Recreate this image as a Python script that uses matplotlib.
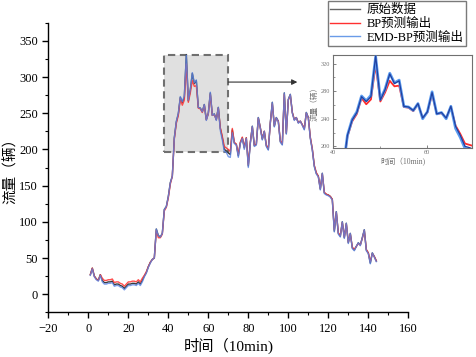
import matplotlib
matplotlib.use("Agg")
import matplotlib.pyplot as plt
from matplotlib.patches import Rectangle
from matplotlib.ticker import MultipleLocator

plt.rcParams['font.family'] = ['Liberation Serif', 'Noto Sans CJK SC', 'DejaVu Sans']
plt.rcParams['axes.unicode_minus'] = True

time = list(range(1, 145))
original = [27, 36, 25, 21, 19, 27, 19, 16, 16, 17, 17, 18, 13, 14, 14, 12, 11, 8, 11, 14,
            14, 15, 15, 14, 17, 14, 19, 25, 30, 38, 44, 48, 50, 90, 81, 79, 84, 117, 121, 135,
            154, 163, 216, 238, 249, 272, 265, 272, 331, 267, 282, 305, 291, 295, 258, 257, 252, 262, 241, 250,
            278, 247, 249, 241, 258, 229, 216, 200, 198, 195, 193, 227, 209, 207, 191, 209, 216, 202, 216, 177,
            209, 232, 205, 207, 244, 230, 214, 225, 205, 200, 237, 265, 232, 244, 239, 211, 207, 278, 222, 269,
            276, 251, 241, 244, 237, 239, 234, 228, 251, 244, 216, 200, 177, 167, 163, 145, 167, 140, 138, 137,
            135, 131, 87, 114, 84, 80, 100, 78, 98, 71, 84, 64, 61, 66, 71, 68, 78, 89, 61, 57,
            43, 57, 52, 46]
bp_pred = [27, 36, 25, 21, 19, 27, 22, 19, 19, 20, 20, 21, 16, 17, 17, 15, 14, 11, 14, 17,
           17, 18, 18, 17, 20, 17, 22, 26, 31, 38, 44, 48, 50, 88, 78, 78, 83, 115, 120, 133,
           152, 163, 214, 236, 247, 270, 261, 268, 318, 265, 278, 295, 287, 288, 257, 256, 251, 261, 241, 249,
           276, 247, 248, 241, 257, 230, 218, 204, 202, 200, 197, 229, 210, 207, 193, 210, 217, 203, 216, 179,
           210, 231, 206, 207, 243, 230, 215, 225, 206, 201, 236, 263, 233, 243, 239, 212, 208, 276, 223, 268,
           275, 251, 241, 244, 237, 239, 234, 229, 250, 244, 217, 201, 178, 168, 163, 146, 166, 141, 138, 137,
           135, 131, 89, 113, 85, 81, 99, 79, 97, 72, 83, 65, 62, 66, 70, 68, 77, 88, 62, 57,
           45, 56, 52, 46]
emd_bp_pred = [26, 35, 24, 20, 18, 26, 17, 14, 14, 15, 15, 16, 11, 12, 12, 10, 9, 6, 9, 12,
               12, 13, 13, 12, 15, 12, 17, 24, 29, 37, 43, 48, 50, 90, 81, 79, 84, 117, 121, 135,
               154, 163, 216, 239, 250, 273, 266, 274, 330, 268, 283, 306, 292, 296, 258, 257, 252, 262, 240, 250,
               279, 247, 249, 240, 258, 226, 213, 197, 196, 190, 189, 223, 208, 206, 189, 208, 215, 200, 215, 175,
               208, 232, 204, 206, 244, 229, 213, 225, 204, 199, 237, 265, 231, 244, 238, 210, 206, 278, 221, 269,
               276, 250, 240, 244, 236, 239, 233, 227, 251, 243, 215, 199, 176, 166, 162, 144, 167, 139, 137, 136,
               134, 130, 86, 114, 83, 79, 100, 77, 98, 70, 84, 63, 60, 66, 71, 67, 78, 89, 60, 56,
               42, 57, 51, 45]

legend_labels = ['原始数据', 'BP预测输出', 'EMD-BP预测输出']
zoom_x = [38, 70]
zoom_y = [197, 331]

c_orig = '#3a3a3a'
c_bp = '#ff3030'
c_emd = '#5b85e6'

fig = plt.figure(figsize=(4.77, 3.57), dpi=100)
ax = fig.add_axes([0.1013, 0.1252, 0.7547, 0.8112])

# zoom region box
ax.add_patch(Rectangle((zoom_x[0], zoom_y[0]), zoom_x[1] - zoom_x[0], zoom_y[1] - zoom_y[0],
                       facecolor='#e0e0e0', edgecolor='#707070', lw=1.5,
                       linestyle=(0, (3.5, 2.2)), zorder=1))

l1, = ax.plot(time, original, color=c_orig, lw=1.0, zorder=3)
l2, = ax.plot(time, bp_pred, color=c_bp, lw=1.0, alpha=0.85, zorder=4)
l3, = ax.plot(time, emd_bp_pred, color=c_emd, lw=1.0, alpha=0.8, zorder=5)

ax.annotate('', xy=(104.5, 293), xytext=(zoom_x[1], 293),
            arrowprops=dict(arrowstyle='-|>', color='#333333', lw=0.8,
                            mutation_scale=8, shrinkA=0, shrinkB=0))

ax.set_xlim(-20, 160)
ax.set_ylim(-25, 375)
ax.xaxis.set_major_locator(MultipleLocator(20))
ax.xaxis.set_minor_locator(MultipleLocator(10))
ax.yaxis.set_major_locator(MultipleLocator(50))
ax.yaxis.set_minor_locator(MultipleLocator(25))
ax.set_yticks([0, 50, 100, 150, 200, 250, 300, 350])
for s in ['top', 'right']:
    ax.spines[s].set_visible(False)
for s in ['left', 'bottom']:
    ax.spines[s].set_linewidth(1.0)
ax.tick_params(which='major', direction='out', length=4, width=1.0, labelsize=9, colors='black')
ax.tick_params(which='minor', direction='out', length=2.5, width=0.8)
ax.set_xlabel('时间（10min)', fontsize=11, labelpad=2)
ax.set_ylabel('流量（辆）', fontsize=10.5, labelpad=0)
ax.yaxis.set_label_coords(-0.085, 0.5)

leg = fig.legend([l1, l2, l3], legend_labels, loc='upper right',
                 bbox_to_anchor=(0.977, 0.996), fontsize=9, frameon=True,
                 fancybox=False, edgecolor='#7a7a7a', framealpha=1,
                 handlelength=2.4, handletextpad=0.5, labelspacing=0.15,
                 borderpad=0.2, borderaxespad=0)
leg.get_frame().set_linewidth(1.0)
leg.legend_handles[0].set_color('#666666')
leg.legend_handles[1].set_color(c_bp)
leg.legend_handles[2].set_color('#6a9be8')
for h in leg.legend_handles:
    h.set_alpha(1)

# inset
ins = fig.add_axes([0.6988, 0.5863, 0.2908, 0.2588])
ins.plot(time, bp_pred, color='#ff2a2a', lw=1.3, zorder=3)
ins.plot(time, emd_bp_pred, color='#5a9bf0', lw=2.0, zorder=4)
ins.plot(time, original, color='#2040a0', lw=0.9, zorder=5)
ins.set_xlim(40, 69.5)
ins.set_ylim(198, 332)
ins.xaxis.set_major_locator(MultipleLocator(20))
ins.xaxis.set_minor_locator(MultipleLocator(10))
ins.yaxis.set_major_locator(MultipleLocator(40))
ins.yaxis.set_minor_locator(MultipleLocator(20))
ins.tick_params(which='major', direction='in', length=2, width=0.6, labelsize=4.5,
                colors='#707070', pad=2)
ins.tick_params(which='minor', direction='in', length=1.2, width=0.5, colors='#707070')
for s in ins.spines.values():
    s.set_color('#707070')
    s.set_linewidth(0.8)
ins.set_xlabel('时间（10min)', fontsize=5.5, color='#707070', labelpad=2)
ins.set_ylabel('流量（辆）', fontsize=5.5, color='#707070', labelpad=2)

fig.savefig('out.png', dpi=100)
